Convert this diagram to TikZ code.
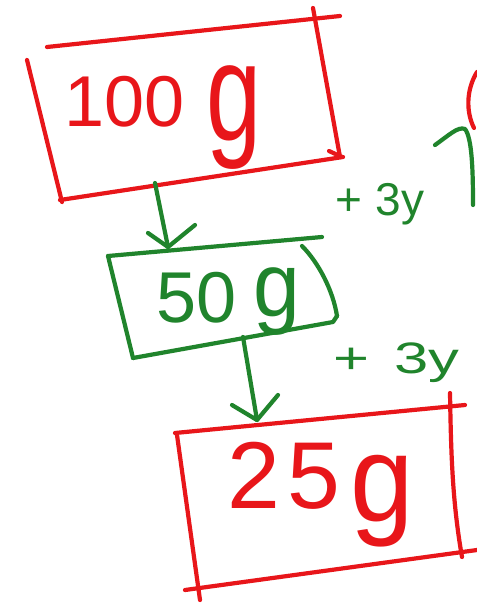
\documentclass[tikz,border=0pt]{standalone}
\usepackage{fontspec}
\setmainfont{Liberation Sans}
\definecolor{hred}{RGB}{232,22,26}
\definecolor{hgreen}{RGB}{32,132,44}
\begin{document}
\begin{tikzpicture}[x=1pt,y=-1pt,line cap=round,line join=round,
  pen/.style={line width=4.2pt},
  redpen/.style={pen,draw=hred},
  greenpen/.style={pen,draw=hgreen},
  hw/.style={inner sep=0pt,outer sep=0pt,anchor=base west},
  redtext/.style={hw,text=hred},
  greentext/.style={hw,text=hgreen}]
\fill[white] (0,0) rectangle (476,607);
\useasboundingbox (0,0) rectangle (476,607);

% ---- box 1 (red) ----
\draw[redpen] (47,47) -- (340,16);
\draw[redpen] (313,8) -- (340,157);
\draw[redpen] (329,151) -- (342,157);
\draw[redpen] (27,60) -- (62,202);
\draw[redpen] (60,200) -- (343,157);
\node[redtext,font=\fontsize{72}{80}\selectfont] (t100) at (64,126) {100};
\node[redtext,yscale=1.55,xscale=1.1,font=\fontsize{90}{100}\selectfont] (g100) at (206,140) {g};

% ---- arrow 1 (green) ----
\coordinate (a1s) at (155,183);
\coordinate (a1t) at (168,247);
\coordinate (a1l) at (148,233);
\coordinate (a1r) at (195,225);
\draw[greenpen] (a1s) -- (a1t);
\draw[greenpen] (a1l) -- (a1t) -- (a1r);

% ---- label +3y (1) ----
\node[greentext,font=\fontsize{46}{50}\selectfont] (l1) at (335,215) {+\kern14pt3y};

% ---- partial marks at the right edge ----
\draw[redpen] (477,72) .. controls (466,90) and (466,112) .. (474,128);
\draw[greenpen] (435,145) .. controls (448,136) and (458,126) .. (465,129)
  .. controls (472,138) and (473,170) .. (473,205);

% ---- box 2 (green) ----
\draw[greenpen] (108,256) -- (322,237);
\draw[greenpen] (108,256) -- (133,358);
\draw[greenpen] (133,358) -- (333,322) -- (337,316);
\draw[greenpen] (302,246) .. controls (318,262) and (333,290) .. (337,316);
\node[greentext,font=\fontsize{72}{80}\selectfont] (t50) at (156,322) {50};
\node[greentext,yscale=1.3,xscale=1.2,font=\fontsize{70}{80}\selectfont] (g50) at (253,316) {g};

% ---- arrow 2 (green) ----
\coordinate (a2s) at (243,337);
\coordinate (a2t) at (257,420);
\coordinate (a2l) at (232,405);
\coordinate (a2r) at (278,395);
\draw[greenpen] (a2s) -- (a2t);
\draw[greenpen] (a2l) -- (a2t) -- (a2r);

% ---- label +3y (2) ----
\node[greentext,xscale=1.4,font=\fontsize{44}{50}\selectfont] (l2) at (333,373) {+\kern18pt3y};

% ---- box 3 (red) ----
\draw[redpen] (175,433) -- (465,405);
\draw[redpen] (177,435) -- (200,600);
\draw[redpen] (185,590) -- (477,550);
\draw[redpen] (450,393) .. controls (451,450) and (452,500) .. (462,557);
\node[redtext,font=\fontsize{95}{100}\selectfont] (t25) at (227,508) {2\kern8pt5};
\node[redtext,yscale=1.3,xscale=1.2,font=\fontsize{95}{100}\selectfont] (g25) at (350,521) {g};
\end{tikzpicture}
\end{document}
